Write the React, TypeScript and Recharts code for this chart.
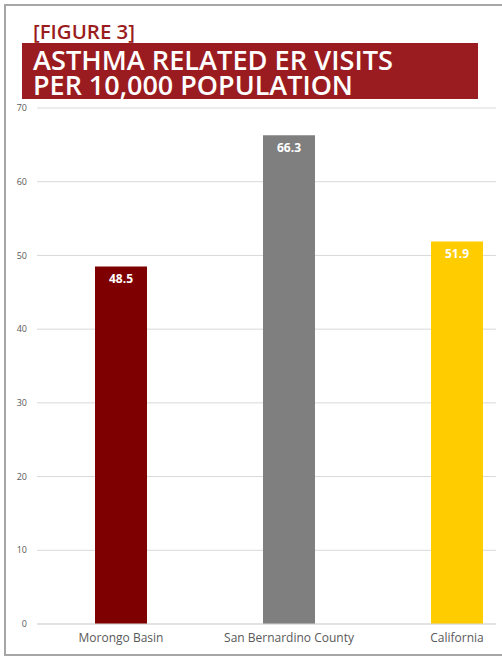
import { Bar, BarChart, CartesianGrid, Cell, LabelList, XAxis, YAxis } from "recharts"

const regions = ["Morongo Basin", "San Bernardino County", "California"]
const visits = [48.5, 66.3, 51.9]
const barColors = ["#7f0000", "#7f7f7f", "#ffcc00"]
const yTicks = [0, 10, 20, 30, 40, 50, 60, 70]
const titleLines = ["ASTHMA RELATED ER VISITS", "PER 10,000 POPULATION"]
const titleWidths = [360, 320]

const data = regions.map((name, i) => ({ name, value: visits[i] }))

const red = "#9b1c20"
const axisFont = "'Open Sans', 'Noto Sans', sans-serif"
const titleFont = "'Open Sans', 'Noto Sans', sans-serif"

export default function App() {
  return (
    <div style={{ position: "absolute", left: 0, top: 0, width: 502, height: 656, overflow: "hidden", background: "#fff" }}>
      {/* frame, open on the right */}
      <div
        style={{
          position: "absolute",
          left: 4,
          top: 4,
          width: 498,
          height: 652,
          boxSizing: "border-box",
          borderLeft: "2px solid #a6a6a6",
          borderTop: "2px solid #a6a6a6",
          borderBottom: "2px solid #a6a6a6",
        }}
      />
      <div style={{ position: "absolute", left: 0, top: 0, width: 496, height: 656, overflow: "hidden" }}>
        <BarChart
          width={541}
          height={656}
          data={data}
          margin={{ top: 108, right: 0, bottom: 0, left: 0 }}
          barSize={52}
        >
          <CartesianGrid vertical={false} stroke="#d9d9d9" />
          <XAxis
            dataKey="name"
            height={32}
            tickLine={false}
            axisLine={{ stroke: "#d9d9d9" }}
            tick={{ fontSize: 12, fill: "#595959", fontFamily: axisFont }}
            tickMargin={3}
          />
          <YAxis
            width={37}
            domain={[0, 70]}
            ticks={yTicks}
            tickLine={false}
            axisLine={false}
            tick={{ fontSize: 9, fill: "#595959", fontFamily: axisFont }}
            tickMargin={4}
          />
          <Bar dataKey="value" isAnimationActive={false}>
            {data.map((d, i) => (
              <Cell key={d.name} fill={barColors[i]} />
            ))}
            <LabelList
              dataKey="value"
              position="insideTop"
              offset={8}
              fill="#fff"
              fontSize={12}
              fontWeight="bold"
              fontFamily={axisFont}
            />
          </Bar>
        </BarChart>
      </div>
      <svg width={502} height={104} style={{ position: "absolute", left: 0, top: 0 }}>
        <text
          x={33}
          y={39}
          fill={red}
          fontFamily={titleFont}
          fontWeight={600}
          fontSize={19}
          textLength={102}
          lengthAdjust="spacingAndGlyphs"
        >
          [FIGURE 3]
        </text>
        <rect x={22} y={43} width={456} height={56} fill={red} />
        {titleLines.map((line, i) => (
          <text
            key={line}
            x={33}
            y={70 + i * 25}
            fill="#fff"
            fontFamily={titleFont}
            fontWeight={600}
            fontSize={26.5}
            textLength={titleWidths[i]}
            lengthAdjust="spacingAndGlyphs"
          >
            {line}
          </text>
        ))}
      </svg>
    </div>
  )
}
